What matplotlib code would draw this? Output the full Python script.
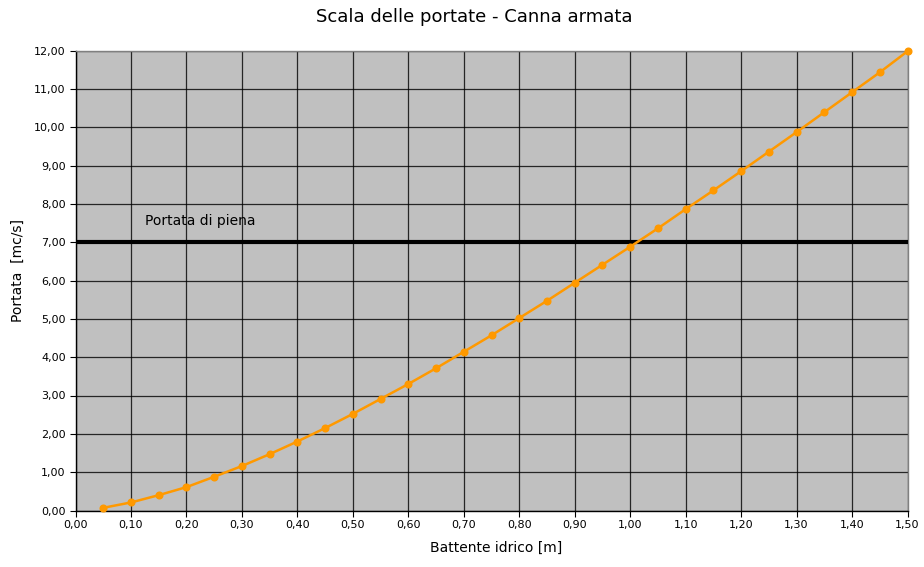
import matplotlib
matplotlib.use("Agg")
import matplotlib.pyplot as plt
from matplotlib.ticker import FuncFormatter, MultipleLocator

# Data
battente = [0.05, 0.10, 0.15, 0.20, 0.25, 0.30, 0.35, 0.40, 0.45, 0.50,
            0.55, 0.60, 0.65, 0.70, 0.75, 0.80, 0.85, 0.90, 0.95, 1.00,
            1.05, 1.10, 1.15, 1.20, 1.25, 1.30, 1.35, 1.40, 1.45, 1.50]
portata = [0.07, 0.21, 0.40, 0.61, 0.88, 1.16, 1.47, 1.80, 2.15, 2.52,
           2.91, 3.30, 3.71, 4.14, 4.57, 5.02, 5.47, 5.94, 6.41, 6.88,
           7.36, 7.86, 8.35, 8.85, 9.36, 9.87, 10.39, 10.91, 11.43, 11.98]
portata_piena = 7.0
title = "Scala delle portate - Canna armata"
xlabel = "Battente idrico [m]"
ylabel = "Portata  [mc/s]"
piena_label = "Portata di piena"

fig = plt.figure(figsize=(9.24, 5.67), dpi=100)
ax = fig.add_axes([75.5/924, 1-510.5/567, (907.5-75.5)/924, (510.5-50.5)/567])
ax.set_facecolor("#C0C0C0")

ax.set_xlim(0, 1.5)
ax.set_ylim(0, 12)
ax.xaxis.set_major_locator(MultipleLocator(0.1))
ax.yaxis.set_major_locator(MultipleLocator(1))
fmt = FuncFormatter(lambda v, p: f"{v:.2f}".replace(".", ","))
ax.xaxis.set_major_formatter(fmt)
ax.yaxis.set_major_formatter(fmt)
ax.grid(True, color="black", linewidth=0.9, alpha=0.8)
ax.set_axisbelow(True)
ax.tick_params(axis="both", labelsize=8, length=4, width=0.8, color="black", pad=3)

for s in ax.spines.values():
    s.set_color("#808080")
    s.set_linewidth(1.0)
ax.spines["left"].set_color("black")
ax.spines["bottom"].set_color("black")

ax.axhline(portata_piena, color="black", linewidth=3, zorder=3)
ax.text(0.125, 7.56, piena_label, fontsize=10, va="center", ha="left")

ax.plot(battente, portata, color="#FF9900", linewidth=1.8, marker="o",
        markersize=4.8, zorder=4, clip_on=False)

fig.text(474/924, 1-17/567, title, fontsize=13, ha="center", va="center")
fig.text(496/924, 1-548/567, xlabel, fontsize=10, ha="center", va="center")
fig.text(18/924, 1-270/567, ylabel, fontsize=10, ha="center", va="center", rotation=90)

fig.savefig("out.png", dpi=100)
